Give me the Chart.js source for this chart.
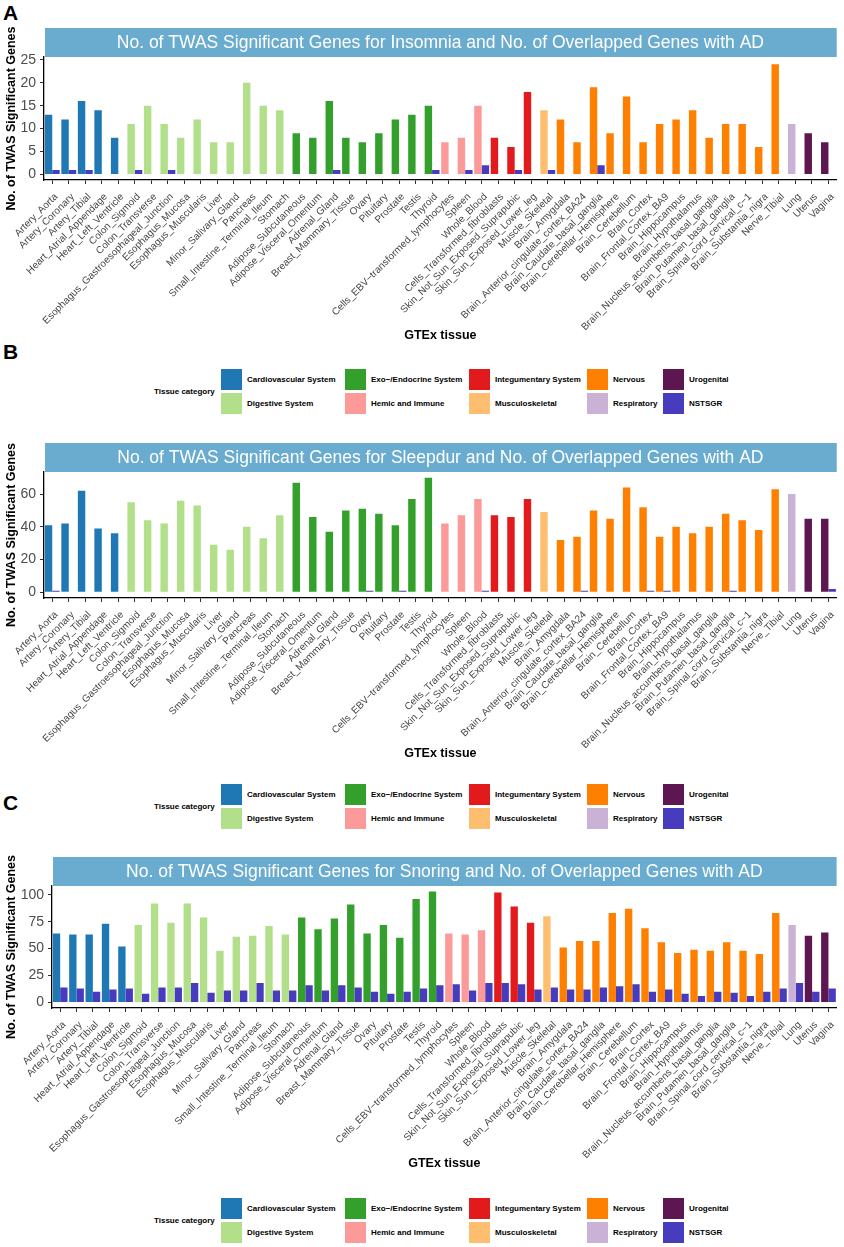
<!DOCTYPE html>
<html><head><meta charset="utf-8">
<script src="https://cdn.jsdelivr.net/npm/chart.js@4.4.0/dist/chart.umd.min.js"></script>
<style>
body{margin:0;background:#fff;width:844px;height:1247px;position:relative;overflow:hidden;font-family:"Liberation Sans",Arial,sans-serif;}
canvas{position:absolute;left:0;}
.letter{position:absolute;left:3px;font-weight:bold;font-size:21px;line-height:1;color:#000;}
.legend{position:absolute;left:0;width:844px;height:46px;font-size:8px;font-weight:bold;color:#000;}
.legend .sw{position:absolute;width:21px;height:21px;}
.legend .lb{position:absolute;line-height:21px;white-space:nowrap;}
.legend .tt{position:absolute;left:154px;line-height:10px;white-space:nowrap;}
</style></head>
<body>
<div class="letter" style="top:2px">A</div>
<div class="letter" style="top:341px">B</div>
<div class="letter" style="top:792px">C</div>
<canvas id="cA" width="844" height="348" style="top:0px"></canvas>
<canvas id="cB" width="844" height="346" style="top:420px"></canvas>
<canvas id="cC" width="844" height="341" style="top:835px"></canvas>
<script>
const tissues = ["Artery_Aorta","Artery_Coronary","Artery_Tibial","Heart_Atrial_Appendage","Heart_Left_Ventricle",
"Colon_Sigmoid","Colon_Transverse","Esophagus_Gastroesophageal_Junction","Esophagus_Mucosa","Esophagus_Muscularis","Liver","Minor_Salivary_Gland","Pancreas","Small_Intestine_Terminal_Ileum","Stomach",
"Adipose_Subcutaneous","Adipose_Visceral_Omentum","Adrenal_Gland","Breast_Mammary_Tissue","Ovary","Pituitary","Prostate","Testis","Thyroid",
"Cells_EBV\u2212transformed_lymphocytes","Spleen","Whole_Blood",
"Cells_Transformed_fibroblasts","Skin_Not_Sun_Exposed_Suprapubic","Skin_Sun_Exposed_Lower_leg",
"Muscle_Skeletal",
"Brain_Amygdala","Brain_Anterior_cingulate_cortex_BA24","Brain_Caudate_basal_ganglia","Brain_Cerebellar_Hemisphere","Brain_Cerebellum","Brain_Cortex","Brain_Frontal_Cortex_BA9","Brain_Hippocampus","Brain_Hypothalamus","Brain_Nucleus_accumbens_basal_ganglia","Brain_Putamen_basal_ganglia","Brain_Spinal_cord_cervical_c\u22121","Brain_Substantia_nigra","Nerve_Tibial",
"Lung","Uterus","Vagina"];

const categories = ["Cardiovascular System","Digestive System","Exo\u2212/Endocrine System","Hemic and Immune","Integumentary System","Musculoskeletal","Nervous","Respiratory","Urogenital"];
const categoryColors = ["#1F78B4","#B2DF8A","#33A02C","#FB9A99","#E31A1C","#FDBF6F","#FF7F00","#CAB2D6","#5E1650"];
const overlapName = "NSTSGR";
const overlapColor = "#473CBE";
// category index of each tissue
const tissueCategory = [0,0,0,0,0, 1,1,1,1,1,1,1,1,1,1, 2,2,2,2,2,2,2,2,2, 3,3,3, 4,4,4, 5, 6,6,6,6,6,6,6,6,6,6,6,6,6,6, 7, 8,8];

const insomniaGenes   = [13,12,16,14,8, 11,15,11,8,12,7,7,20,15,14, 9,8,16,8,7,9,12,13,15, 7,8,15, 8,6,18, 14, 12,7,19,9,17,7,11,12,14,8,11,11,6,24, 11, 9,7];
const insomniaOverlap = [1,1,1,0,0, 1,0,1,0,0,0,0,0,0,0, 0,0,1,0,0,0,0,0,1, 0,1,2, 0,1,0, 1, 0,0,2,0,0,0,0,0,0,0,0,0,0,0, 0, 0,0];

const sleepdurGenes   = [41,42,62,39,36, 55,44,42,56,53,29,26,40,33,47, 67,46,37,50,51,48,41,57,70, 42,47,57, 47,46,57, 49, 32,34,50,45,64,52,34,40,36,40,48,44,38,63, 60, 45,45];
const sleepdurOverlap = [1,0,0,0,0, 0,0,0,0,0,0,0,0,0,0, 0,0,0,0,1,0,1,0,0, 0,0,1, 0,0,0, 0, 0,1,0,0,0,1,1,0,0,0,1,0,0,0, 0, 0,2];

const snoringGenes    = [64,63,63,73,52, 72,92,74,92,79,48,61,62,71,63, 79,68,78,91,64,72,60,96,103, 64,63,67, 102,89,74, 80, 51,57,57,83,87,69,56,46,49,48,56,48,45,83, 72, 62,65];
const snoringOverlap  = [14,13,10,12,13, 8,14,14,18,9,11,11,18,11,11, 16,11,16,14,10,8,10,13,16, 17,11,18, 18,17,12, 14, 12,12,14,15,17,10,12,8,6,10,9,6,10,13, 18, 10,13];

const insomniaTicks = [0,5,10,15,20,25];
const sleepdurTicks = [0,20,40,60];
const snoringTicks  = [0,25,50,75,100];

const FONT = '"Liberation Sans", Arial, Helvetica, sans-serif';
Chart.defaults.font.family = FONT;

const stripPlugin = {
  id: 'strip',
  afterDraw(chart, args, opts) {
    const {ctx, chartArea: a} = chart;
    ctx.save();
    ctx.fillStyle = '#6AACCF';
    ctx.fillRect(a.left + 1, a.top - 29, a.right - a.left - 1, 29);
    ctx.fillStyle = '#FFFFFF';
    ctx.font = '17.5px ' + FONT;
    ctx.textAlign = 'center';
    ctx.textBaseline = 'middle';
    ctx.fillText(opts.text, (a.left + a.right) / 2, a.top - 14);
    ctx.restore();
  }
};

function makeChart(id, titleText, genes, overlap, yMin, yMax, yTicks, yWidth, padTop) {
  const barColors = tissueCategory.map(c => categoryColors[c]);
  return new Chart(document.getElementById(id), {
    type: 'bar',
    data: {
      labels: tissues,
      datasets: [
        {label: 'TWAS significant genes', data: genes, backgroundColor: barColors, borderWidth: 0,
         categoryPercentage: 0.9, barPercentage: 1.0},
        {label: overlapName, data: overlap, backgroundColor: overlapColor, borderWidth: 0,
         categoryPercentage: 0.9, barPercentage: 1.0}
      ]
    },
    options: {
      responsive: false,
      animation: false,
      layout: {padding: {top: padTop, left: 0, right: 5, bottom: 0}},
      plugins: {legend: {display: false}, tooltip: {enabled: false}, strip: {text: titleText}},
      scales: {
        x: {
          offset: true,
          grid: {offset: false, drawOnChartArea: false, drawTicks: true, tickLength: 4, color: '#333333', lineWidth: 1},
          border: {display: true, color: '#000000', width: 1.3},
          ticks: {autoSkip: false, maxRotation: 45, minRotation: 45, padding: 7, labelOffset: 4,
                  font: {size: 10}, color: '#474747'},
          title: {display: true, text: 'GTEx tissue', color: '#000000',
                  font: {size: 12.5, weight: 'bold'}, padding: {top: 4, bottom: 5}},
          afterFit: s => { s.height = 168; }
        },
        y: {
          min: yMin, max: yMax,
          afterBuildTicks: s => { s.ticks = yTicks.map(v => ({value: v})); },
          afterFit: s => { s.width = yWidth; },
          grid: {drawOnChartArea: false, drawTicks: true, tickLength: 4, color: '#333333', lineWidth: 1},
          border: {display: true, color: '#000000', width: 1.3},
          ticks: {font: {size: 14}, color: '#4D4D4D', padding: 4},
          title: {display: true, text: 'No. of TWAS Significant Genes', color: '#000000',
                  font: {size: 12.5, weight: 'bold'}, padding: {top: 4, bottom: 0}}
        }
      }
    },
    plugins: [stripPlugin]
  });
}

makeChart('cA', 'No. of TWAS Significant Genes for Insomnia and No. of Overlapped Genes with AD',
  insomniaGenes, insomniaOverlap, -1.2, 25.6, insomniaTicks, 44, 57);
makeChart('cB', 'No. of TWAS Significant Genes for Sleepdur and No. of Overlapped Genes with AD',
  sleepdurGenes, sleepdurOverlap, -3.5, 73.5, sleepdurTicks, 44, 52);
makeChart('cC', 'No. of TWAS Significant Genes for Snoring and No. of Overlapped Genes with AD',
  snoringGenes, snoringOverlap, -5.15, 108.15, snoringTicks, 52, 51);

function buildLegend(top) {
  const div = document.createElement('div');
  div.className = 'legend';
  div.style.top = top + 'px';
  const tt = document.createElement('div');
  tt.className = 'tt'; tt.style.top = '18px'; tt.textContent = 'Tissue category';
  div.appendChild(tt);
  const names = categories.concat([overlapName]);
  const cols = categoryColors.concat([overlapColor]);
  const swX = [221, 345, 469, 587, 663];
  const lbX = [247, 371, 495, 613, 689];
  names.forEach((n, i) => {
    const c = Math.floor(i / 2), r = i % 2;
    const sw = document.createElement('div');
    sw.className = 'sw';
    sw.style.left = swX[c] + 'px'; sw.style.top = (r * 24) + 'px';
    sw.style.background = cols[i];
    div.appendChild(sw);
    const lb = document.createElement('div');
    lb.className = 'lb';
    lb.style.left = lbX[c] + 'px'; lb.style.top = (r * 24) + 'px';
    lb.textContent = n;
    div.appendChild(lb);
  });
  document.body.appendChild(div);
}
buildLegend(369);
buildLegend(784);
buildLegend(1198);
</script>
</body></html>
